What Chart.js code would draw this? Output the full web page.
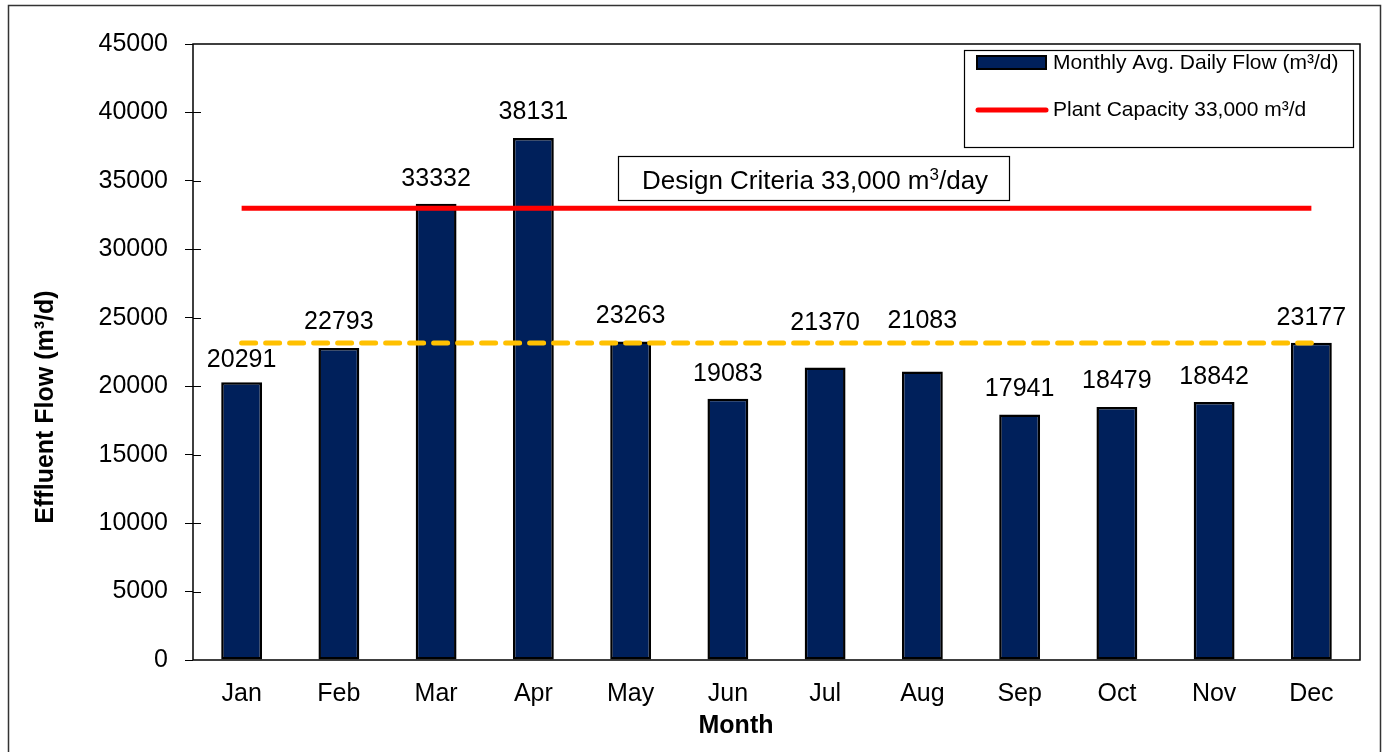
<!DOCTYPE html>
<html>
<head>
<meta charset="utf-8">
<script src="https://cdn.jsdelivr.net/npm/chart.js@4"></script>
<style>
  body { margin: 0; background: #fff; }
  canvas { display: block; }
</style>
</head>
<body>
<canvas id="flowChart" width="1386" height="752"></canvas>
<script>
const months = ['Jan', 'Feb', 'Mar', 'Apr', 'May', 'Jun', 'Jul', 'Aug', 'Sep', 'Oct', 'Nov', 'Dec'];
const dailyFlow = [20291, 22793, 33332, 38131, 23263, 19083, 21370, 21083, 17941, 18479, 18842, 23177];
const plantCapacity = [33000, 33000, 33000, 33000, 33000, 33000, 33000, 33000, 33000, 33000, 33000, 33000];
const yearAverage = [23149, 23149, 23149, 23149, 23149, 23149, 23149, 23149, 23149, 23149, 23149, 23149];
const yTicks = [0, 5000, 10000, 15000, 20000, 25000, 30000, 35000, 40000, 45000];

// how far above each bar its value label sits (px), some were moved by hand
const labelLift = [22, 26, 25, 26, 25, 25, 44, 50, 25, 26, 25, 25];

const FONT = "'Liberation Sans', Arial, sans-serif";

// frame, plot box, value labels, legend, design note, axis titles
const decorations = {
    id: 'decorations',
    afterDatasetsDraw(chart) {
        const ctx = chart.ctx;
        const area = chart.chartArea;
        const y = chart.scales.y;
        ctx.save();

        // outer frame
        ctx.strokeStyle = '#333';
        ctx.lineWidth = 1.5;
        ctx.strokeRect(8.5, 5.5, 1372, 760);

        // plot box
        ctx.strokeStyle = '#000';
        ctx.lineWidth = 1.5;
        ctx.strokeRect(area.left, area.top, area.right - area.left, area.bottom - area.top);

        // inner half of the y ticks
        ctx.lineWidth = 1;
        yTicks.forEach(v => {
            if (v === 0 || v === 45000) return;
            const py = Math.round(y.getPixelForValue(v)) + 0.5;
            ctx.beginPath();
            ctx.moveTo(area.left, py);
            ctx.lineTo(area.left + 8, py);
            ctx.stroke();
        });

        // bar value labels
        const barMeta = chart.getDatasetMeta(0);
        ctx.fillStyle = '#000';
        ctx.font = '25px ' + FONT;
        ctx.textAlign = 'center';
        ctx.textBaseline = 'middle';
        barMeta.data.forEach((bar, i) => {
            ctx.fillText(String(dailyFlow[i]), bar.x, bar.y - labelLift[i]);
        });

        // legend box
        ctx.fillStyle = '#fff';
        ctx.fillRect(964, 50, 389, 97);
        ctx.strokeStyle = '#000';
        ctx.lineWidth = 1.2;
        ctx.strokeRect(964.5, 50.5, 389, 97);

        const ds = chart.data.datasets;
        ctx.fillStyle = ds[0].backgroundColor;
        ctx.fillRect(977, 56, 69, 13);
        ctx.strokeStyle = '#000';
        ctx.lineWidth = 2;
        ctx.strokeRect(977, 56, 69, 13);

        ctx.strokeStyle = ds[1].borderColor;
        ctx.lineWidth = 5;
        ctx.lineCap = 'round';
        ctx.beginPath();
        ctx.moveTo(978, 110);
        ctx.lineTo(1046, 110);
        ctx.stroke();

        ctx.fillStyle = '#000';
        ctx.font = '21px ' + FONT;
        ctx.textAlign = 'left';
        ctx.fillText(ds[0].label, 1053, 63);
        ctx.fillText(ds[1].label, 1053, 110);

        // design criteria note
        ctx.fillStyle = '#fff';
        ctx.fillRect(618, 156, 391, 44);
        ctx.strokeStyle = '#000';
        ctx.lineWidth = 1.2;
        ctx.strokeRect(618.5, 156.5, 391, 44);
        ctx.fillStyle = '#000';
        const partA = 'Design Criteria 33,000 m';
        const partB = '/day';
        ctx.font = '26px ' + FONT;
        const wA = ctx.measureText(partA).width;
        const wB = ctx.measureText(partB).width;
        ctx.font = '17px ' + FONT;
        const wS = ctx.measureText('3').width;
        let tx = 815 - (wA + wS + wB) / 2;
        ctx.font = '26px ' + FONT;
        ctx.fillText(partA, tx, 182);
        tx += wA;
        ctx.font = '17px ' + FONT;
        ctx.fillText('3', tx, 175);
        tx += wS;
        ctx.font = '26px ' + FONT;
        ctx.fillText(partB, tx, 182);

        // axis titles
        ctx.font = 'bold 25px ' + FONT;
        ctx.textAlign = 'center';
        ctx.fillText('Month', 736, 726);
        ctx.save();
        ctx.translate(46, 407);
        ctx.rotate(-Math.PI / 2);
        ctx.fillText('Effluent Flow (m³/d)', 0, 0);
        ctx.restore();

        ctx.restore();
    }
};

const ctx = document.getElementById('flowChart').getContext('2d');
new Chart(ctx, {
    type: 'bar',
    data: {
        labels: months,
        datasets: [{
            type: 'bar',
            label: 'Monthly Avg. Daily Flow (m³/d)',
            data: dailyFlow,
            backgroundColor: '#00205b',
            borderColor: '#000',
            borderWidth: 2.5,
            borderSkipped: false,
            barPercentage: 0.84,
            categoryPercentage: 0.5,
            order: 3
        }, {
            type: 'line',
            label: 'Plant Capacity 33,000 m³/d',
            data: plantCapacity,
            borderColor: '#ff0000',
            borderWidth: 5,
            pointRadius: 0,
            order: 1
        }, {
            type: 'line',
            label: 'Average',
            data: yearAverage,
            borderColor: '#ffc000',
            borderWidth: 5,
            borderDash: [14, 10],
            borderCapStyle: 'round',
            pointRadius: 0,
            order: 2
        }]
    },
    options: {
        responsive: false,
        animation: false,
        layout: { padding: { left: 0, top: 44, right: 26, bottom: 0 } },
        plugins: {
            legend: { display: false },
            tooltip: { enabled: false }
        },
        scales: {
            x: {
                grid: { display: false, drawTicks: false },
                border: { display: false },
                ticks: {
                    padding: 19,
                    color: '#000',
                    font: { size: 25, family: FONT }
                },
                afterFit(scale) { scale.height = 92; }
            },
            y: {
                min: 0,
                max: 45000,
                grid: { drawOnChartArea: false, tickLength: 8, color: '#000' },
                border: { display: false },
                ticks: {
                    stepSize: 5000,
                    padding: 17,
                    color: '#000',
                    font: { size: 25, family: FONT },
                    callback: value => String(value)
                },
                afterFit(scale) { scale.width = 193; }
            }
        }
    },
    plugins: [decorations]
});
</script>
</body>
</html>
